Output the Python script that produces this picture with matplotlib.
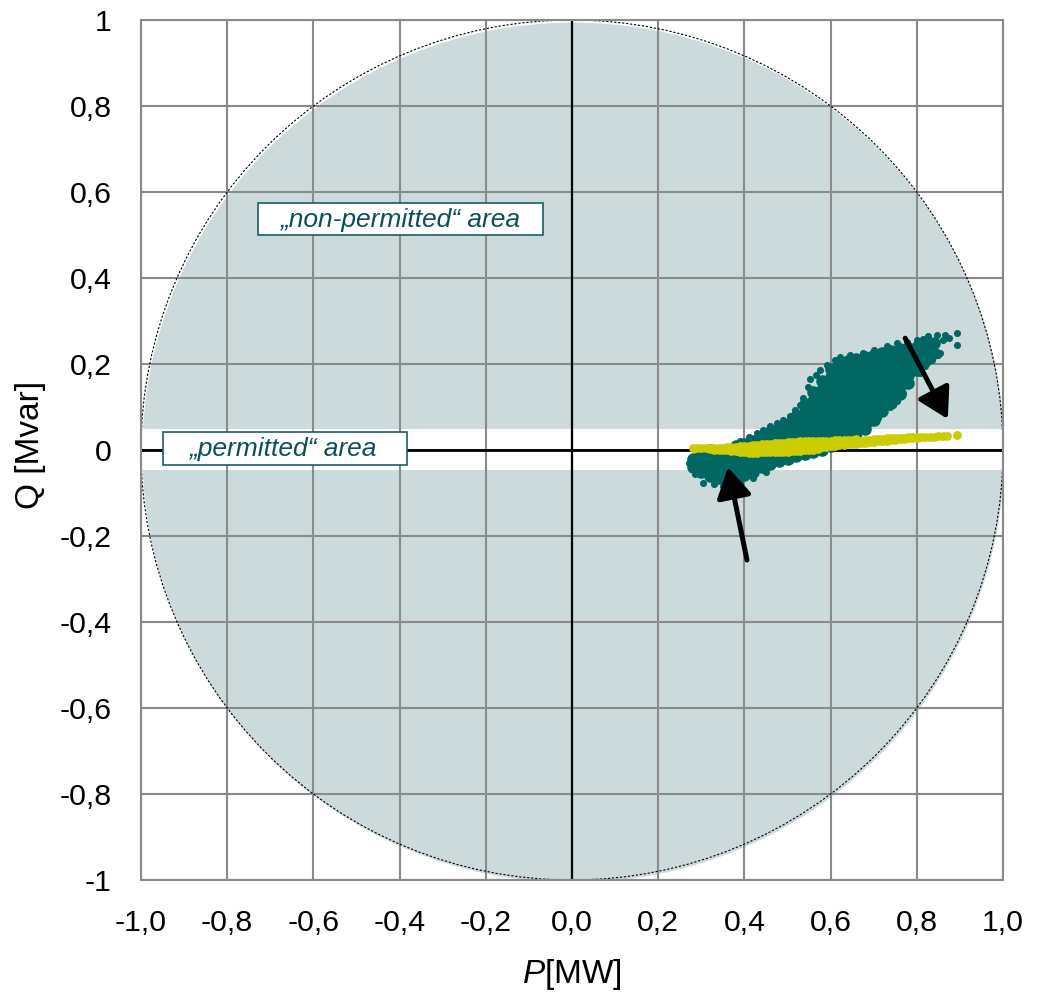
import matplotlib
matplotlib.use('Agg')
import matplotlib.pyplot as plt
from matplotlib.patches import Circle, Rectangle, FancyArrowPatch

plt.rcParams['font.family'] = ['Liberation Sans', 'DejaVu Sans']
plt.rcParams['mathtext.fontset'] = 'custom'
plt.rcParams['mathtext.rm'] = 'Liberation Sans'
plt.rcParams['mathtext.it'] = 'Liberation Sans:italic'

# ---------------- data ----------------
x_ticks = [-1.0, -0.8, -0.6, -0.4, -0.2, 0.0, 0.2, 0.4, 0.6, 0.8, 1.0]
x_tick_labels = ['-1,0', '-0,8', '-0,6', '-0,4', '-0,2', '0,0', '0,2', '0,4', '0,6', '0,8', '1,0']
y_ticks = [-1.0, -0.8, -0.6, -0.4, -0.2, 0.0, 0.2, 0.4, 0.6, 0.8, 1.0]
y_tick_labels = ['-1', '-0,8', '-0,6', '-0,4', '-0,2', '0', '0,2', '0,4', '0,6', '0,8', '1']

s_rated = 1.0                       # circle radius (MVA)
permitted_band = (-0.047, 0.05)     # Q limits of the permitted area

# dense core of the dark teal cloud: P column -> Q values
teal_core_p = [0.28, 0.30, 0.32, 0.34, 0.36, 0.38, 0.40, 0.42, 0.44, 0.46,
               0.48, 0.50, 0.52, 0.54, 0.56, 0.58, 0.60, 0.62, 0.64, 0.66,
               0.68, 0.70, 0.72, 0.74, 0.76, 0.78, 0.80, 0.82, 0.84]
teal_core_q = [
    [-0.04, -0.02],
    [-0.05, -0.03, -0.01],
    [-0.06, -0.04, -0.02, 0.0],
    [-0.065, -0.05, -0.03, -0.01],
    [-0.068, -0.05, -0.03, -0.01, 0.0],
    [-0.065, -0.045, -0.025, -0.005, 0.01],
    [-0.058, -0.04, -0.02, 0.0, 0.015],
    [-0.05, -0.03, -0.01, 0.01, 0.022],
    [-0.04, -0.02, 0.0, 0.02, 0.032],
    [-0.032, -0.01, 0.01, 0.03, 0.042],
    [-0.026, -0.005, 0.015, 0.035, 0.052],
    [-0.02, 0.0, 0.02, 0.04, 0.06],
    [-0.014, 0.005, 0.025, 0.045, 0.065, 0.08],
    [-0.009, 0.01, 0.03, 0.05, 0.07, 0.09, 0.108],
    [-0.004, 0.015, 0.035, 0.055, 0.075, 0.095, 0.115, 0.135],
    [0.0, 0.02, 0.04, 0.06, 0.08, 0.10, 0.12, 0.14, 0.16],
    [0.01, 0.03, 0.05, 0.07, 0.09, 0.11, 0.13, 0.15, 0.17, 0.188],
    [0.02, 0.04, 0.06, 0.08, 0.10, 0.12, 0.14, 0.16, 0.18, 0.20],
    [0.03, 0.05, 0.07, 0.09, 0.11, 0.13, 0.15, 0.17, 0.19, 0.206],
    [0.04, 0.06, 0.08, 0.10, 0.12, 0.14, 0.16, 0.18, 0.20, 0.211],
    [0.05, 0.07, 0.09, 0.11, 0.13, 0.15, 0.17, 0.19, 0.21, 0.216],
    [0.07, 0.085, 0.105, 0.125, 0.145, 0.165, 0.185, 0.205, 0.221],
    [0.09, 0.11, 0.13, 0.15, 0.17, 0.19, 0.21, 0.226],
    [0.11, 0.125, 0.145, 0.165, 0.185, 0.205, 0.225, 0.231],
    [0.13, 0.15, 0.17, 0.19, 0.21, 0.235],
    [0.155, 0.175, 0.195, 0.215, 0.238],
    [0.185, 0.20, 0.22, 0.24],
    [0.208, 0.228, 0.245],
    [0.225, 0.248],
]

# scattered outer teal points
teal_edge_p = [0.272, 0.285, 0.304, 0.33, 0.35, 0.37, 0.39, 0.42, 0.45,
               0.39, 0.41, 0.43, 0.443, 0.46, 0.475, 0.49, 0.505, 0.517, 0.53,
               0.535, 0.548, 0.552, 0.565, 0.575, 0.592, 0.61, 0.622, 0.645,
               0.675, 0.70, 0.73, 0.755, 0.777, 0.80, 0.815, 0.826, 0.835,
               0.847, 0.86, 0.865, 0.875, 0.893, 0.893, 0.854,
               0.691, 0.71, 0.738, 0.755, 0.768, 0.785, 0.807, 0.82, 0.835, 0.85]
teal_edge_q = [-0.03, -0.055, -0.077, -0.078, -0.083, -0.084, -0.075, -0.065, -0.052,
               0.022, 0.03, 0.04, 0.047, 0.055, 0.062, 0.07, 0.08, 0.093, 0.105,
               0.12, 0.147, 0.165, 0.175, 0.185, 0.198, 0.21, 0.216, 0.222,
               0.226, 0.232, 0.242, 0.248, 0.251, 0.255, 0.258, 0.265, 0.25,
               0.267, 0.255, 0.267, 0.26, 0.272, 0.244, 0.226,
               0.063, 0.075, 0.10, 0.115, 0.133, 0.155, 0.179, 0.195, 0.21, 0.22]

# yellow-green series: P column -> Q values
yellow_p = [0.28, 0.29, 0.30, 0.31, 0.32, 0.33, 0.34, 0.35, 0.36, 0.37,
            0.38, 0.39, 0.40, 0.41, 0.42, 0.43, 0.44, 0.45, 0.46, 0.47,
            0.48, 0.49, 0.50, 0.51, 0.52, 0.53, 0.54, 0.55, 0.56, 0.57,
            0.58, 0.59, 0.60, 0.61, 0.62, 0.63, 0.64, 0.65, 0.66, 0.67,
            0.68, 0.69, 0.70, 0.71, 0.72, 0.73, 0.74, 0.75, 0.76, 0.77,
            0.78, 0.79, 0.80, 0.81, 0.82, 0.83, 0.84, 0.85, 0.86, 0.87, 0.893]
yellow_q = [
    [0.005], [0.005], [0.004], [0.004], [0.002, 0.005],
    [0.001, 0.005], [0.001, 0.005], [0.0, 0.005], [-0.001, 0.006], [-0.002, 0.007],
    [-0.003, 0.004, 0.008], [-0.004, 0.003, 0.009], [-0.005, 0.002, 0.009],
    [-0.006, 0.002, 0.010], [-0.006, 0.002, 0.011], [-0.006, 0.003, 0.012],
    [-0.005, 0.004, 0.013], [-0.005, 0.004, 0.014], [-0.005, 0.005, 0.015],
    [-0.005, 0.005, 0.016], [-0.004, 0.006, 0.017], [-0.004, 0.006, 0.017],
    [-0.004, 0.007, 0.018], [-0.003, 0.008, 0.019], [-0.003, 0.008, 0.019],
    [-0.002, 0.009, 0.020], [-0.001, 0.010, 0.021], [0.0, 0.011, 0.021],
    [0.001, 0.012, 0.022], [0.002, 0.012, 0.022], [0.007, 0.015, 0.022],
    [0.008, 0.015, 0.022], [0.009, 0.016, 0.022], [0.010, 0.017, 0.023],
    [0.011, 0.018, 0.023], [0.012, 0.018, 0.024], [0.013, 0.019, 0.024],
    [0.014, 0.020, 0.024], [0.015, 0.021, 0.025], [0.016, 0.022],
    [0.017, 0.023], [0.018, 0.024], [0.019, 0.025], [0.020, 0.025],
    [0.021, 0.026], [0.022, 0.027], [0.023, 0.027], [0.024, 0.028],
    [0.025, 0.029], [0.026, 0.029], [0.027, 0.030], [0.028, 0.031],
    [0.029, 0.031], [0.030], [0.030], [0.031], [0.031], [0.032], [0.032],
    [0.033], [0.034],
]

# arrows (tail P, tail Q, head P, head Q)
arrows = [(0.773, 0.26, 0.872, 0.072), (0.406, -0.256, 0.362, -0.04)]

# ---------------- styles ----------------
C_FILL = '#cddadc'
C_TEAL = '#006763'
C_YELLOW = '#cccc00'
C_GRID = '#8a8a8a'
C_TXT = '#0d4f58'

fig = plt.figure(figsize=(10.4, 9.93), dpi=100)
ax = fig.add_axes([141 / 1040, 1 - 880 / 993, 862 / 1040, 860 / 993])
ax.set_xlim(-1, 1)
ax.set_ylim(-1, 1)
ax.set_axisbelow(True)

ax.add_patch(Circle((0.003, -0.006), s_rated, facecolor=C_FILL, edgecolor='none', zorder=0.1))
ax.axhspan(permitted_band[0], permitted_band[1], facecolor='white', edgecolor='none', zorder=0.2)
ax.grid(True, color=C_GRID, lw=1.5)
ax.axhline(0, color='black', lw=2.0, zorder=1.0)
ax.axvline(0, color='black', lw=1.6, zorder=1.0)
ax.add_patch(Circle((0, 0), s_rated, facecolor='none', edgecolor='black', lw=0.8,
                    linestyle=(0, (2, 1.6)), zorder=1.1))

tp, tq = [], []
for p, qs in zip(teal_core_p, teal_core_q):
    for q in qs:
        tp.append(p)
        tq.append(q)
ax.scatter(tp, tq, s=82, color=C_TEAL, linewidths=0, zorder=2)
ax.scatter(teal_edge_p, teal_edge_q, s=26, color=C_TEAL, linewidths=0, zorder=2)

yp, yq = [], []
for p, qs in zip(yellow_p, yellow_q):
    for q in qs:
        yp.append(p)
        yq.append(q)
ax.scatter(yp, yq, s=40, color=C_YELLOW, linewidths=0, zorder=2.1)

for (x0, y0, x1, y1) in arrows:
    ax.add_patch(FancyArrowPatch((x0, y0), (x1, y1),
                                 arrowstyle='-|>,head_length=0.65,head_width=0.38',
                                 mutation_scale=28, lw=3.6, color='black',
                                 shrinkA=0, shrinkB=0, zorder=3))

# area labels
ax.add_patch(Rectangle((-0.7285, 0.5), 0.6615, 0.074, facecolor='white',
                       edgecolor='#1d5c63', lw=1.2, zorder=4))
ax.text(-0.398, 0.536, '\u201enon-permitted\u201c area', ha='center', va='center',
        style='italic', color=C_TXT, fontsize=19, zorder=5)
ax.add_patch(Rectangle((-0.949, -0.035), 0.566, 0.077, facecolor='white',
                       edgecolor='#1d5c63', lw=1.2, zorder=4))
ax.text(-0.668, 0.002, '\u201epermitted\u201c area', ha='center', va='center',
        style='italic', color=C_TXT, fontsize=19, zorder=5)

ax.set_xticks(x_ticks, x_tick_labels)
ax.set_yticks(y_ticks, y_tick_labels)
ax.tick_params(length=0, labelsize=21.8)
ax.tick_params(axis='y', pad=21)
ax.tick_params(axis='x', pad=21)
for sp in ax.spines.values():
    sp.set_color(C_GRID)
    sp.set_linewidth(1.5)

fig.text(572 / 1040, 1 - 974 / 993, r'$\mathit{P}$[MW]', ha='center', va='center', fontsize=24)
fig.text(31 / 1040, 1 - 445 / 993, 'Q [Mvar]', ha='center', va='center',
         rotation=90, fontsize=24)

fig.savefig('out.png', dpi=100)
